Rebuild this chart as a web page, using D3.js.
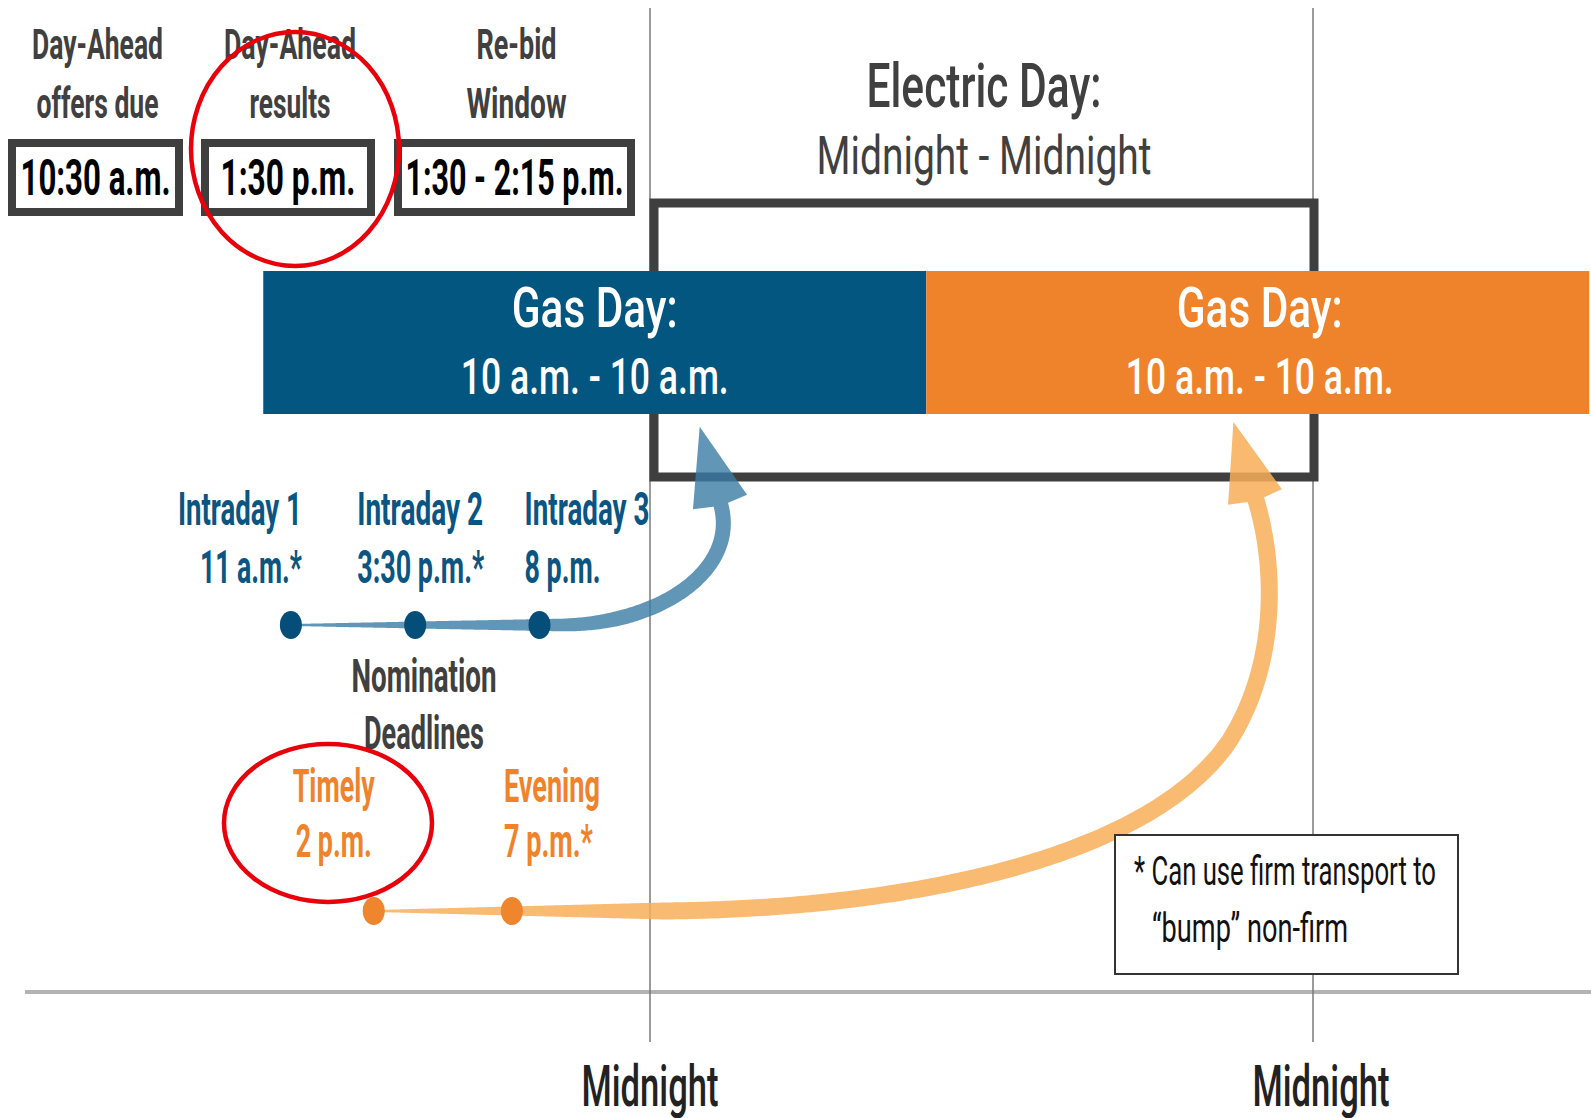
<!DOCTYPE html>
<html>
<head>
<meta charset="utf-8">
<script src="https://cdn.jsdelivr.net/npm/d3@7"></script>
<style>
  html, body { margin: 0; padding: 0; background: #fff; }
  svg { display: block; }
</style>
</head>
<body>
<svg width="1591" height="1118"></svg>
<script>
// timeline values (hours, 0 = midnight that starts the electric day)
var midnights = [0, 24];
var midnightLabel = "Midnight";

var electricDay = [0, 24];
var electricTitle = ["Electric Day:", "Midnight - Midnight"];

var gasDayStart = [-14, 10];
var gasDayEnd = [10, 34];
var gasTitle = ["Gas Day:", "10 a.m. - 10 a.m."];

var marketTitles = [["Day-Ahead", "offers due"], ["Day-Ahead", "results"], ["Re-bid", "Window"]];
var marketTimes = ["10:30 a.m.", "1:30 p.m.", "1:30 - 2:15 p.m."];

var intradayNames = ["Intraday 1", "Intraday 2", "Intraday 3"];
var intradayTimes = ["11 a.m.*", "3:30 p.m.*", "8 p.m."];
var intradayHours = [-13, -8.5, -4];

var gasNomNames = ["Timely", "Evening"];
var gasNomTimes = ["2 p.m.", "7 p.m.*"];
var gasNomHours = [-10, -5];

var nominationTitle = ["Nomination", "Deadlines"];
var footnote = ["* Can use firm transport to", "\u201Cbump\u201D non-firm"];

var FONT = "Roboto, 'Open Sans', sans-serif";
var BLUE = "#03567f", ORANGE = "#ef832c", DARK = "#3f3f3f";

var svg = d3.select("svg");
var x = d3.scaleLinear().domain([0, 24]).range([650, 1313]);

function label(sel, str, px, py, o) {
  var t = sel.append("text")
    .attr("x", px).attr("y", py)
    .attr("font-family", FONT)
    .attr("font-size", o.size)
    .attr("font-weight", o.weight || 700)
    .attr("fill", o.fill || "#404040")
    .attr("text-anchor", o.anchor || "middle")
    .text(str);
  if (o.w) t.attr("textLength", o.w).attr("lengthAdjust", "spacingAndGlyphs");
  return t;
}

// variable width stroke: sample a path and build a filled outline
function taper(d, w0, w1, ramp) {
  var tmp = svg.append("path").attr("d", d).attr("fill", "none");
  var node = tmp.node(), L = node.getTotalLength(), n = 240;
  var left = [], right = [], pts = [];
  for (var i = 0; i <= n; i++) pts.push(node.getPointAtLength(L * i / n));
  for (var i = 0; i <= n; i++) {
    var a = pts[Math.max(0, i - 1)], b = pts[Math.min(n, i + 1)];
    var dx = b.x - a.x, dy = b.y - a.y, len = Math.hypot(dx, dy) || 1;
    var nx = -dy / len, ny = dx / len;
    var s = L * i / n;
    var w = (w0 + (w1 - w0) * Math.min(1, s / ramp)) / 2;
    left.push([pts[i].x + nx * w, pts[i].y + ny * w]);
    right.push([pts[i].x - nx * w, pts[i].y - ny * w]);
  }
  var end = pts[n], prev = pts[n - 3];
  var tx = end.x - prev.x, ty = end.y - prev.y, tl = Math.hypot(tx, ty);
  tmp.remove();
  return { outline: left.concat(right.reverse()), end: end, dir: [tx / tl, ty / tl] };
}

function arrow(g, d, w0, w1, ramp, fill) {
  var t = taper(d, w0, w1, ramp);
  g.append("path").attr("d", d3.line()(t.outline) + "Z").attr("fill", fill);
  var e = t.end, u = t.dir, nx = -u[1], ny = u[0];
  var head = [
    [e.x + u[0] * 78, e.y + u[1] * 78],
    [e.x + nx * 28, e.y + ny * 28],
    [e.x - u[0] * 4, e.y - u[1] * 4],
    [e.x - nx * 28, e.y - ny * 28]
  ];
  g.append("path").attr("d", d3.line()(head) + "Z").attr("fill", fill);
}

// axis and midnight guides
svg.append("line").attr("x1", 25).attr("x2", 1591).attr("y1", 992).attr("y2", 992)
  .attr("stroke", "#b3b3b3").attr("stroke-width", 4);
svg.selectAll("line.mid").data(midnights).enter().append("line")
  .attr("class", "mid")
  .attr("x1", function(d) { return x(d); }).attr("x2", function(d) { return x(d); })
  .attr("y1", 8).attr("y2", 1042)
  .attr("stroke", "#7a7a7a").attr("stroke-width", 1.5);
midnights.forEach(function(d) {
  label(svg, midnightLabel, x(d) + (d > 0 ? 8 : 0), 1106, { size: 57, weight: 500, fill: "#222", w: 137 });
});

// electric day box
svg.append("rect")
  .attr("x", x(electricDay[0]) + 4).attr("y", 203)
  .attr("width", x(electricDay[1]) - x(electricDay[0]) - 3).attr("height", 274)
  .attr("fill", "none").attr("stroke", DARK).attr("stroke-width", 9);
label(svg, electricTitle[0], 984, 107, { size: 62, weight: 500, w: 235 });
label(svg, electricTitle[1], 984, 174, { size: 53, weight: 400, w: 335 });

// gas days
var gasColors = [BLUE, ORANGE];
svg.selectAll("rect.gas").data(gasDayStart).enter().append("rect")
  .attr("class", "gas")
  .attr("x", function(d) { return x(d); })
  .attr("width", function(d, i) { return x(gasDayEnd[i]) - x(d); })
  .attr("y", 271).attr("height", 143)
  .attr("fill", function(d, i) { return gasColors[i]; });
gasDayStart.forEach(function(d, i) {
  var cx = (x(d) + Math.min(x(gasDayEnd[i]), 1591)) / 2 + (i ? 2 : 0);
  label(svg, gasTitle[0], cx, 327, { size: 56, weight: 500, fill: "#fff", w: 166 });
  label(svg, gasTitle[1], cx, 394, { size: 50, weight: 500, fill: "#fff", w: 268 });
});

// day-ahead market boxes
var boxX = [12, 205, 398], boxW = [167, 166, 233];
var titleW = [[131, 122], [132, 81], [80, 100]], timeW = [150, 135, 218];
marketTimes.forEach(function(t, i) {
  var cx = boxX[i] + boxW[i] / 2;
  svg.append("rect").attr("x", boxX[i]).attr("y", 143).attr("width", boxW[i]).attr("height", 69)
    .attr("fill", "#fff").attr("stroke", DARK).attr("stroke-width", 8);
  label(svg, t, cx, 195, { size: 50, fill: "#000", w: timeW[i] });
  label(svg, marketTitles[i][0], cx + 2, 59, { size: 43, w: titleW[i][0] });
  label(svg, marketTitles[i][1], cx + 2, 118, { size: 43, w: titleW[i][1] });
});

// nomination arrows
var yBlue = 625, yOrange = 911;
var blue = svg.append("g").attr("opacity", 0.8);
arrow(blue,
  "M" + x(intradayHours[0]) + "," + yBlue + " L560," + yBlue +
  " C660," + yBlue + " 741,569 720,502", 2, 15, 330, "#3a7ca6");
var orange = svg.append("g").attr("opacity", 0.85);
arrow(orange,
  "M" + x(gasNomHours[0]) + "," + yOrange + " L650," + yOrange +
  " C900," + yOrange + " 1150,860 1230,740 C1280,660 1275,560 1255,497", 2, 17, 290, "#f8ae58");

// intraday deadlines
var idAnchor = ["end", "start", "start"], idOff = [11, -58, -15];
var idW = [[124, 102], [126, 127], [125, 76]];
intradayHours.forEach(function(h, i) {
  label(svg, intradayNames[i], x(h) + idOff[i], 525, { size: 46, fill: "#0a5581", anchor: idAnchor[i], w: idW[i][0] });
  label(svg, intradayTimes[i], x(h) + idOff[i], 583, { size: 46, fill: "#0a5581", anchor: idAnchor[i], w: idW[i][1] });
});
svg.selectAll("ellipse.id").data(intradayHours).enter().append("ellipse")
  .attr("class", "id")
  .attr("cx", function(d) { return x(d); }).attr("cy", yBlue)
  .attr("rx", 11).attr("ry", 14).attr("fill", "#064e7a");

label(svg, nominationTitle[0], 424, 692, { size: 46, w: 145 });
label(svg, nominationTitle[1], 424, 749, { size: 46, w: 120 });

// timely / evening
var gnAnchor = ["middle", "start"], gnOff = [-40, -8];
var gnW = [[82, 76], [96, 89]];
gasNomHours.forEach(function(h, i) {
  label(svg, gasNomNames[i], x(h) + gnOff[i], 802, { size: 46, fill: ORANGE, anchor: gnAnchor[i], w: gnW[i][0] });
  label(svg, gasNomTimes[i], x(h) + gnOff[i], 857, { size: 46, fill: ORANGE, anchor: gnAnchor[i], w: gnW[i][1] });
});
svg.selectAll("ellipse.gn").data(gasNomHours).enter().append("ellipse")
  .attr("class", "gn")
  .attr("cx", function(d) { return x(d); }).attr("cy", yOrange)
  .attr("rx", 11).attr("ry", 14).attr("fill", "#ef852c");

// footnote
svg.append("rect").attr("x", 1115).attr("y", 835).attr("width", 343).attr("height", 139)
  .attr("fill", "#fff").attr("stroke", "#333").attr("stroke-width", 2);
label(svg, footnote[0], 1134, 885, { size: 41, weight: 400, fill: "#111", anchor: "start", w: 302 });
label(svg, footnote[1], 1152, 942, { size: 41, weight: 400, fill: "#111", anchor: "start", w: 196 });

// red highlight circles
svg.append("ellipse").attr("cx", 295).attr("cy", 149).attr("rx", 104).attr("ry", 117)
  .attr("fill", "none").attr("stroke", "#e8000b").attr("stroke-width", 4.5);
svg.append("ellipse").attr("cx", 328).attr("cy", 823).attr("rx", 104).attr("ry", 79)
  .attr("fill", "none").attr("stroke", "#e8000b").attr("stroke-width", 4.5);
</script>
</body>
</html>
